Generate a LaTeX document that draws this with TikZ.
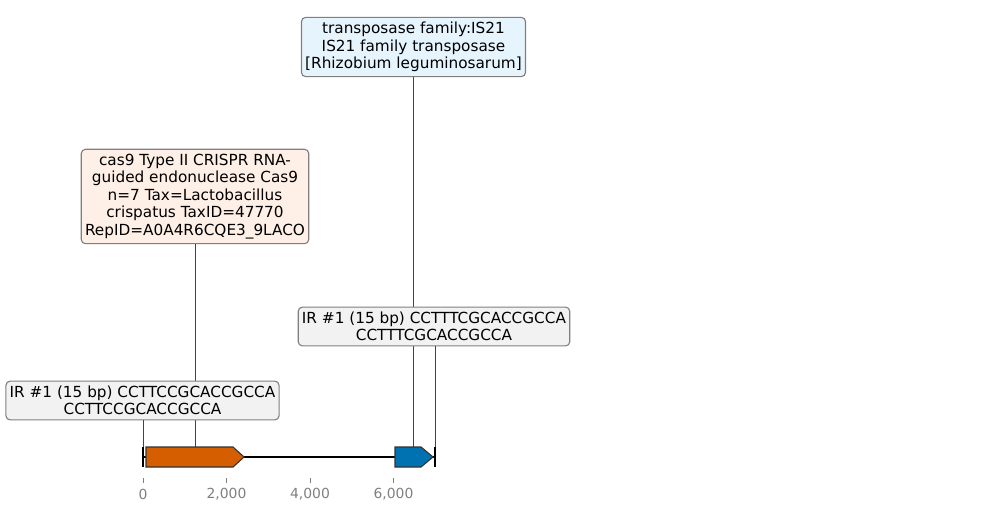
\documentclass[tikz,border=0pt]{standalone}
\usepackage{fontspec}
\setmainfont{DejaVu Sans}
\definecolor{boxgray}{HTML}{7F7F7F}
\definecolor{linegray}{HTML}{444444}
\definecolor{tickgray}{HTML}{808080}
\definecolor{irfill}{HTML}{F2F2F2}
\definecolor{casfill}{HTML}{FEF0E6}
\definecolor{tpfill}{HTML}{E6F5FD}
\definecolor{geneorange}{HTML}{D55E00}
\definecolor{geneblue}{HTML}{0072B2}
\begin{document}
\begin{tikzpicture}[x=0.72pt,y=-0.72pt,
  lbl/.style={draw=boxgray, rounded corners=3pt, align=center,
    font=\fontsize{11}{12.6}\selectfont, inner xsep=2.7pt, inner ysep=3.4pt, line width=0.8pt},
  conn/.style={draw=linegray, line width=0.6pt},
  gene/.style={draw=black!80, line width=0.8pt},
  tickmark/.style={draw=tickgray, line width=0.6pt},
  ticklabel/.style={text=tickgray, font=\fontsize{10}{12}\selectfont, inner sep=0pt}]
\useasboundingbox (0,0) rectangle (989,512);

% anchor coordinates on the genes / sequence
\coordinate (g1top) at (195,447);
\coordinate (g2top) at (414,447);
\coordinate (irlend) at (143,447);
\coordinate (irrend) at (435,447);

% label nodes
\path (413.5,47) node[lbl, fill=tpfill] (tp) {transposase family:IS21\\IS21 family transposase\\{[}Rhizobium leguminosarum{]}};
\path (195,196.5) node[lbl, fill=casfill] (cas) {cas9 Type II CRISPR RNA-\\guided endonuclease Cas9\\n=7 Tax=Lactobacillus\\crispatus TaxID=47770\\RepID=A0A4R6CQE3\_9LACO};

% connectors (drawn behind the IR boxes)
\draw[conn] (tp.south) -- (tp.south |- g2top);
\draw[conn] (cas.south) -- (cas.south |- g1top);

\path (434,326.5) node[lbl, fill=irfill] (irr) {IR \#1 (15 bp) CCTTTCGCACCGCCA\\CCTTTCGCACCGCCA};
\path (142.5,400.5) node[lbl, fill=irfill] (irl) {IR \#1 (15 bp) CCTTCCGCACCGCCA\\CCTTCCGCACCGCCA};

\draw[conn] (irr.south -| irrend) -- (irrend);
\draw[conn] (irl.south -| irlend) -- (irlend);

% backbone
\coordinate (seqstart) at (143,457);
\coordinate (seqend) at (435,457);
\draw[black, line width=1.5pt] (seqstart) -- (seqend);
\draw[black, line width=1pt] (143,447) -- (143,467);
\draw[black, line width=1.5pt] (435,447) -- (435,467);

% genes
\draw[gene, fill=geneorange] (146,447) -- (233,447) -- (244,457) -- (233,467) -- (146,467) -- cycle;
\draw[gene, fill=geneblue] (395,447) -- (421,447) -- (433,457) -- (421,467) -- (395,467) -- cycle;

% axis ticks
\foreach \xx/\lab in {143/0, 226.5/{2,000}, 310/{4,000}, 393.5/{6,000}} {
  \draw[tickmark] (\xx,478) -- (\xx,483);
  \node[ticklabel] at (\xx,494) {\lab};
}
\end{tikzpicture}
\end{document}
